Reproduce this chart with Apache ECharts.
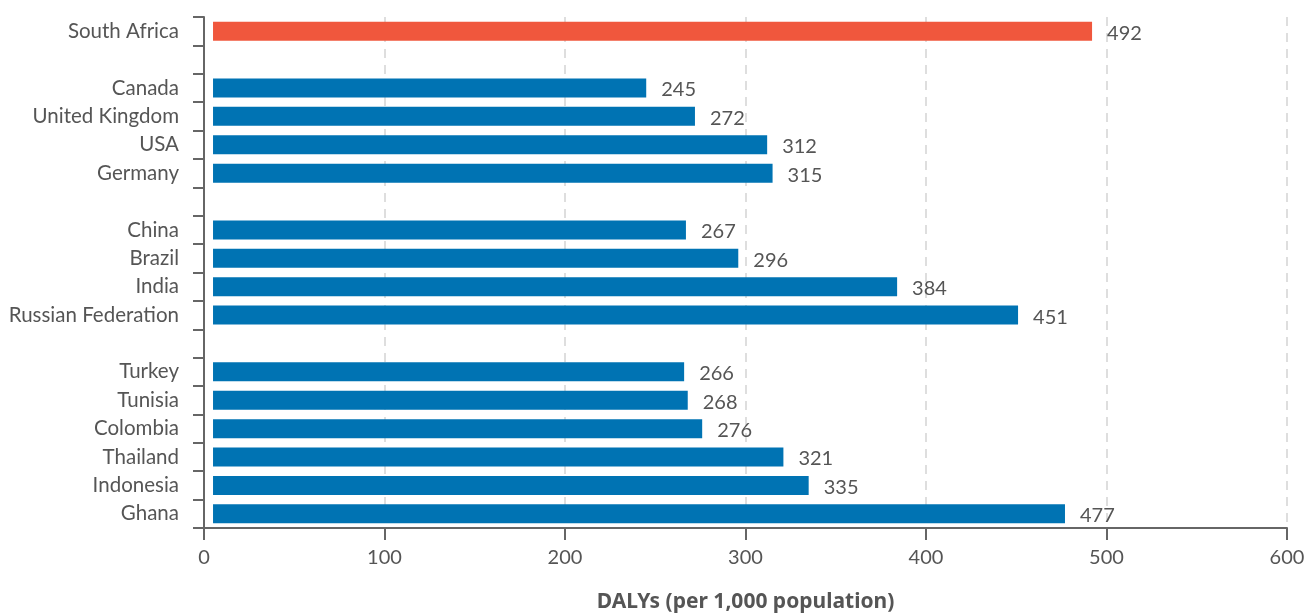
<!DOCTYPE html>
<html>
<head>
<meta charset="utf-8">
<title>DALYs per 1,000 population</title>
<script src="https://cdn.jsdelivr.net/npm/echarts@6/dist/echarts.min.js"></script>
<style>
  html, body { margin: 0; padding: 0; background: #fff; }
  #chart { width: 1307px; height: 614px; }
</style>
</head>
<body>
<div id="chart"></div>
<script>
// countries top to bottom, blanks are the group gaps
var countries = ['South Africa', ' ', 'Canada', 'United Kingdom', 'USA', 'Germany', '  ',
  'China', 'Brazil', 'India', 'Russian Federation', '   ',
  'Turkey', 'Tunisia', 'Colombia', 'Thailand', 'Indonesia', 'Ghana'];
var dalys = [492, '-', 245, 272, 312, 315, '-', 267, 296, 384, 451, '-', 266, 268, 276, 321, 335, 477];
var highlight = 'South Africa';
var xTicks = [0, 600, 100];

var font = 'Lato, "Open Sans", sans-serif';
var txt = '#555';
var axisCol = '#666';

var chart = echarts.init(document.getElementById('chart'));
chart.setOption({
  animation: false,
  grid: { left: 204, right: 20, top: 17, bottom: 86, containLabel: false, outerBoundsMode: 'none' },
  xAxis: {
    type: 'value',
    min: xTicks[0], max: xTicks[1], interval: xTicks[2],
    startValue: 5,
    name: 'DALYs (per 1,000 population)',
    nameLocation: 'middle',
    nameGap: 64,
    nameTextStyle: { fontFamily: '"Noto Sans", sans-serif', fontSize: 21, fontWeight: 'bold', color: '#555' },
    axisLine: { show: true, lineStyle: { color: axisCol, width: 2 } },
    axisTick: { show: true, length: 12, lineStyle: { color: axisCol, width: 2 } },
    axisLabel: { fontFamily: font, fontSize: 20, color: txt, margin: 20 },
    splitLine: {
      show: true,
      lineStyle: { color: '#dedede', width: 2, type: [9, 7] }
    }
  },
  yAxis: {
    type: 'category',
    inverse: true,
    data: countries,
    axisLine: { show: true, lineStyle: { color: axisCol, width: 2 } },
    axisTick: { show: true, length: 11, lineStyle: { color: axisCol, width: 2 } },
    axisLabel: { fontFamily: font, fontSize: 20.5, color: txt, margin: 25, padding: [3, 0, 0, 0] },
    splitLine: { show: false }
  },
  series: [{
    type: 'bar',
    barWidth: 19,
    data: dalys.map(function (v, i) {
      return {
        value: v,
        itemStyle: { color: countries[i] === highlight ? '#f0573d' : '#0073b3' }
      };
    }),
    label: {
      show: true,
      position: 'right',
      distance: 15,
      offset: [0, 2],
      fontFamily: font,
      fontSize: 20,
      color: txt
    }
  }]
});
</script>
</body>
</html>
